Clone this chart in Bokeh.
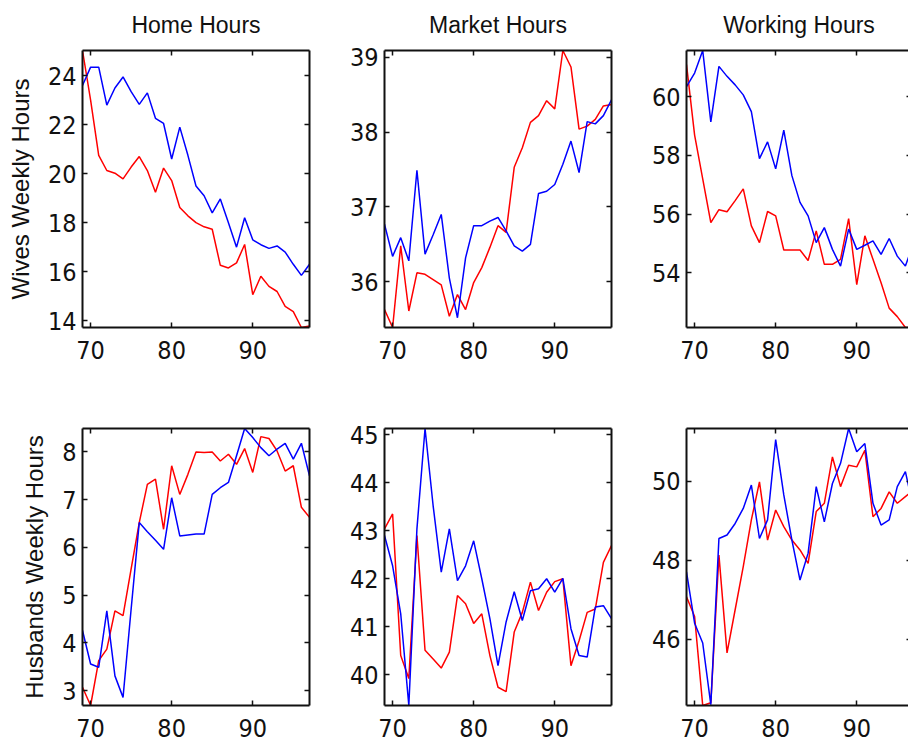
from bokeh.plotting import figure
from bokeh.layouts import column, row
from bokeh.models import Range1d, FixedTicker, LinearAxis
from bokeh.embed import file_html
from bokeh.resources import INLINE

# Survey years (19xx)
years = list(range(69, 98))
year_ticks = [70, 80, 90]

# Wives: weekly hours
wives_home_red = [25.03, 23.0, 20.75, 20.13, 20.02, 19.79, 20.27, 20.7, 20.13, 19.24,
                  20.23, 19.72, 18.62, 18.28, 18.0, 17.83, 17.73, 16.26, 16.15, 16.36,
                  17.11, 15.06, 15.81, 15.4, 15.19, 14.58, 14.37, 13.72, 13.78]
wives_home_blue = [23.6, 24.35, 24.35, 22.8, 23.5, 23.95, 23.35, 22.83, 23.3, 22.26,
                   22.05, 20.6, 21.9, 20.75, 19.5, 19.1, 18.4, 18.97, 18.0, 17.0,
                   18.2, 17.3, 17.1, 16.95, 17.05, 16.8, 16.3, 15.85, 16.3]
wives_market_red = [35.63, 35.39, 36.48, 35.61, 36.12, 36.1, 36.03, 35.96, 35.54, 35.83,
                    35.63, 35.99, 36.19, 36.46, 36.75, 36.66, 37.53, 37.79, 38.13, 38.22,
                    38.42, 38.31, 39.09, 38.87, 38.04, 38.08, 38.17, 38.35, 38.37]
wives_market_blue = [36.77, 36.34, 36.59, 36.28, 37.49, 36.37, 36.63, 36.9, 36.05, 35.52,
                     36.32, 36.75, 36.75, 36.81, 36.86, 36.68, 36.48, 36.41, 36.5, 37.18,
                     37.21, 37.3, 37.57, 37.88, 37.46, 38.14, 38.11, 38.22, 38.43]
wives_work_red = [61.09, 58.69, 57.2, 55.71, 56.15, 56.08, 56.46, 56.86, 55.6, 55.03,
                  56.09, 55.94, 54.78, 54.78, 54.78, 54.42, 55.43, 54.29, 54.29, 54.46,
                  55.85, 53.6, 55.26, 54.46, 53.66, 52.8, 52.51, 52.14, 52.15]
wives_work_blue = [60.34, 60.8, 61.57, 59.14, 61.03, 60.69, 60.4, 60.06, 59.49, 57.89,
                   58.46, 57.54, 58.86, 57.31, 56.4, 55.94, 55.03, 55.54, 54.8, 54.23,
                   55.49, 54.8, 54.94, 55.09, 54.63, 55.17, 54.57, 54.23, 55.0]

# Husbands: weekly hours
husb_home_red = [3.07, 2.69, 3.63, 3.87, 4.67, 4.57, 5.55, 6.52, 7.32, 7.43,
                 6.38, 7.71, 7.11, 7.53, 8.0, 7.99, 8.0, 7.81, 7.95, 7.74,
                 8.07, 7.57, 8.32, 8.28, 8.02, 7.6, 7.71, 6.84, 6.63]
husb_home_blue = [4.26, 3.56, 3.49, 4.67, 3.31, 2.86, 4.71, 6.52, 6.33, 6.15,
                  5.96, 7.04, 6.24, 6.26, 6.28, 6.28, 7.11, 7.25, 7.36, 7.92,
                  8.49, 8.3, 8.09, 7.92, 8.06, 8.18, 7.85, 8.18, 7.5]
husb_market_red = [43.04, 43.35, 40.4, 39.92, 42.9, 40.51, 40.33, 40.14, 40.47, 41.65,
                   41.48, 41.07, 41.27, 40.4, 39.74, 39.65, 40.89, 41.3, 41.93, 41.34,
                   41.72, 41.94, 42.0, 40.19, 40.71, 41.3, 41.37, 42.34, 42.69]
husb_market_blue = [42.9, 42.27, 41.27, 39.36, 43.04, 45.13, 43.52, 42.14, 43.04, 41.96,
                    42.27, 42.79, 42.0, 41.17, 40.19, 41.1, 41.73, 41.13, 41.75, 41.79,
                    42.0, 41.72, 42.01, 40.96, 40.4, 40.37, 41.41, 41.44, 41.17]
husb_work_red = [47.08, 46.58, 44.33, 44.4, 48.13, 45.66, 46.75, 47.84, 49.02, 49.98,
                 48.51, 49.27, 48.85, 48.51, 48.26, 47.92, 49.23, 49.44, 50.61, 49.86,
                 50.4, 50.36, 50.78, 49.1, 49.31, 49.73, 49.44, 49.61, 49.77]
husb_work_blue = [47.71, 46.41, 45.91, 44.35, 48.55, 48.64, 48.93, 49.31, 49.9, 48.55,
                  49.02, 51.05, 49.65, 48.51, 47.5, 48.18, 49.86, 48.97, 49.94, 50.45,
                  51.33, 50.74, 50.95, 49.44, 48.89, 49.02, 49.86, 50.24, 49.3]

# Y tick values per panel
ticks_wives_home = [14, 16, 18, 20, 22, 24]
ticks_wives_market = [36, 37, 38, 39]
ticks_wives_work = [54, 56, 58, 60]
ticks_husb_home = [3, 4, 5, 6, 7, 8]
ticks_husb_market = [40, 41, 42, 43, 44, 45]
ticks_husb_work = [46, 48, 50]

titles = ["Home Hours", "Market Hours", "Working Hours"]
row_labels = ["Wives Weekly Hours", "Husbands Weekly Hours"]

TICK_FONT = "'Liberation Sans Narrow', 'DejaVu Sans Condensed', 'Liberation Sans', sans-serif"
TEXT_FONT = "Liberation Sans"
INK = "#111111"
FRAME_W = 227
FRAME_H = 277


def frame_axis(ticks, labelled, standoff=6):
    ax = LinearAxis(ticker=FixedTicker(ticks=ticks))
    ax.axis_line_color = INK
    ax.axis_line_width = 2
    ax.major_tick_in = 5
    ax.major_tick_out = 0
    ax.major_tick_line_color = INK
    ax.major_tick_line_width = 1.5
    ax.minor_tick_line_color = None
    if labelled:
        ax.major_label_text_font = TICK_FONT
        ax.major_label_text_font_size = "25px"
        ax.major_label_text_color = INK
        ax.major_label_standoff = standoff
    else:
        # mirrored tick marks only, no labels on the top / right edges
        ax.major_label_text_color = None
        ax.major_label_text_font_size = "1px"
        ax.major_label_standoff = 0
    return ax


def panel(red, blue, yticks, title=None, ylabel=None, borders=(36, 37, 50, 50),
          frame_w=FRAME_W, visible_w=None, right_line=True):
    left, right, top, bottom = borders
    vis = visible_w if visible_w is not None else frame_w
    x_end = years[0] + (years[-1] - years[0]) * vis / frame_w
    lo = min(red + blue)
    hi = max(red + blue)
    p = figure(frame_width=vis, frame_height=FRAME_H,
               x_range=Range1d(years[0], x_end), y_range=Range1d(lo, hi),
               x_axis_type=None, y_axis_type=None,
               output_backend="svg", toolbar_location=None,
               min_border_left=left, min_border_right=right,
               min_border_top=top, min_border_bottom=bottom)
    p.outline_line_color = None
    p.background_fill_color = "white"
    p.border_fill_color = "white"

    p.line(years, red, line_color="#ff0000", line_width=1.5)
    p.line(years, blue, line_color="#0000ff", line_width=1.5)

    bottom_ax = frame_axis(year_ticks, True, standoff=13)
    left_ax = frame_axis(yticks, True, standoff=6)
    top_ax = frame_axis(year_ticks, False)
    right_ax = frame_axis(yticks, False)
    if not right_line:
        right_ax.axis_line_color = None
    p.add_layout(bottom_ax, "below")
    p.add_layout(left_ax, "left")
    p.add_layout(top_ax, "above")
    p.add_layout(right_ax, "right")

    if ylabel:
        left_ax.axis_label = ylabel
        left_ax.axis_label_text_font = TEXT_FONT
        left_ax.axis_label_text_font_size = "24px"
        left_ax.axis_label_text_font_style = "normal"
        left_ax.axis_label_text_color = INK
        left_ax.axis_label_standoff = 11

    if title:
        p.title.text = title
        p.title.align = "center"
        p.title.vertical_align = "top"
        p.title.text_font = TEXT_FONT
        p.title.text_font_size = "23px"
        p.title.text_font_style = "normal"
        p.title.text_color = INK
        p.title.standoff = 22
    return p


p1 = panel(wives_home_red, wives_home_blue, ticks_wives_home, titles[0], row_labels[0],
           borders=(82, 37, 50, 50))
p2 = panel(wives_market_red, wives_market_blue, ticks_wives_market, titles[1],
           borders=(36, 37, 50, 50))
p3 = panel(wives_work_red, wives_work_blue, ticks_wives_work, titles[2],
           borders=(37, 0, 50, 50), visible_w=225, right_line=False)
p4 = panel(husb_home_red, husb_home_blue, ticks_husb_home, None, row_labels[1],
           borders=(82, 37, 51, 37))
p5 = panel(husb_market_red, husb_market_blue, ticks_husb_market,
           borders=(36, 37, 51, 37))
p6 = panel(husb_work_red, husb_work_blue, ticks_husb_work,
           borders=(37, 0, 51, 37), visible_w=225, right_line=False)

layout = column(row(p1, p2, p3, spacing=0), row(p4, p5, p6, spacing=0), spacing=0)

open("out.html", "w").write(file_html(layout, INLINE))
